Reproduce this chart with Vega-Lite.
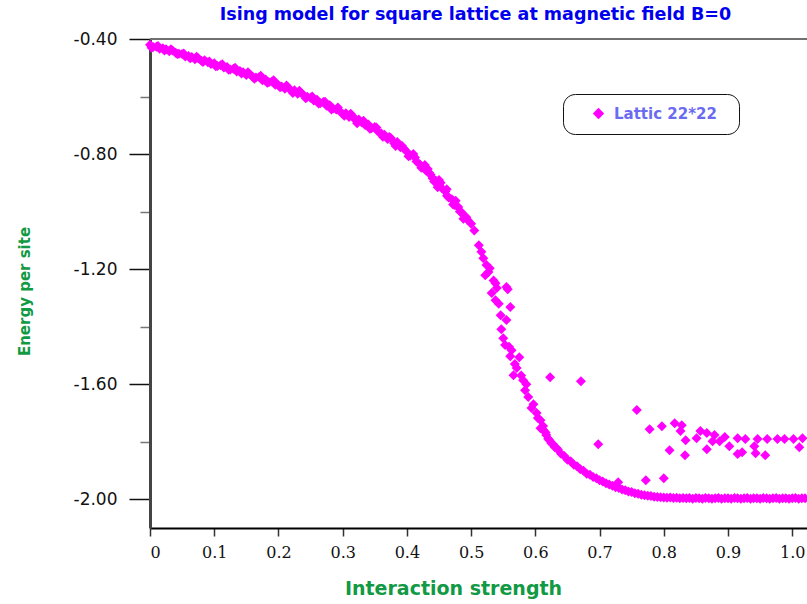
{
  "$schema": "https://vega.github.io/schema/vega-lite/v6.json",
  "width": 657,
  "height": 489,
  "autosize": "none",
  "padding": {"left": 150, "top": 39, "right": 0, "bottom": 76},
  "background": "white",
  "title": {
    "text": "Ising model for square lattice at magnetic field B=0",
    "font": "DejaVu Sans",
    "fontSize": 17.5,
    "fontWeight": "bold",
    "color": "#0000ee",
    "anchor": "middle",
    "frame": "group",
    "baseline": "alphabetic",
    "offset": -7,
    "dx": -3
  },
  "config": {
    "view": {"stroke": null}
  },
  "layer": [
    {
      "data": {"values": [{}]},
      "mark": {"type": "rule", "color": "#707070", "strokeWidth": 2},
      "encoding": {"y": {"datum": -0.4, "type": "quantitative"}}
    },
    {
      "data": {
        "values": [
          {"x": 0.000, "y": -0.420}, {"x": 0.005, "y": -0.428}, {"x": 0.010, "y": -0.427}, {"x": 0.015, "y": -0.434},
          {"x": 0.020, "y": -0.432}, {"x": 0.025, "y": -0.436}, {"x": 0.030, "y": -0.443}, {"x": 0.035, "y": -0.440},
          {"x": 0.040, "y": -0.448}, {"x": 0.045, "y": -0.451}, {"x": 0.050, "y": -0.452}, {"x": 0.055, "y": -0.461},
          {"x": 0.060, "y": -0.459}, {"x": 0.065, "y": -0.463}, {"x": 0.070, "y": -0.470}, {"x": 0.075, "y": -0.467},
          {"x": 0.080, "y": -0.476}, {"x": 0.085, "y": -0.474}, {"x": 0.090, "y": -0.481}, {"x": 0.095, "y": -0.487},
          {"x": 0.100, "y": -0.484}, {"x": 0.105, "y": -0.494}, {"x": 0.110, "y": -0.491}, {"x": 0.115, "y": -0.499},
          {"x": 0.120, "y": -0.497}, {"x": 0.125, "y": -0.506}, {"x": 0.130, "y": -0.503}, {"x": 0.135, "y": -0.513},
          {"x": 0.140, "y": -0.511}, {"x": 0.145, "y": -0.516}, {"x": 0.150, "y": -0.525}, {"x": 0.155, "y": -0.522},
          {"x": 0.160, "y": -0.531}, {"x": 0.165, "y": -0.534}, {"x": 0.170, "y": -0.532}, {"x": 0.175, "y": -0.543},
          {"x": 0.180, "y": -0.541}, {"x": 0.185, "y": -0.550}, {"x": 0.190, "y": -0.548}, {"x": 0.195, "y": -0.559},
          {"x": 0.200, "y": -0.560}, {"x": 0.205, "y": -0.565}, {"x": 0.210, "y": -0.573}, {"x": 0.215, "y": -0.569},
          {"x": 0.220, "y": -0.580}, {"x": 0.225, "y": -0.578}, {"x": 0.230, "y": -0.590}, {"x": 0.235, "y": -0.587},
          {"x": 0.240, "y": -0.596}, {"x": 0.245, "y": -0.601}, {"x": 0.250, "y": -0.604}, {"x": 0.255, "y": -0.614},
          {"x": 0.260, "y": -0.611}, {"x": 0.265, "y": -0.623}, {"x": 0.270, "y": -0.619}, {"x": 0.275, "y": -0.632},
          {"x": 0.280, "y": -0.630}, {"x": 0.285, "y": -0.642}, {"x": 0.290, "y": -0.645}, {"x": 0.295, "y": -0.650},
          {"x": 0.300, "y": -0.660}, {"x": 0.305, "y": -0.658}, {"x": 0.310, "y": -0.671}, {"x": 0.315, "y": -0.667},
          {"x": 0.320, "y": -0.682}, {"x": 0.325, "y": -0.680}, {"x": 0.330, "y": -0.690}, {"x": 0.335, "y": -0.699},
          {"x": 0.340, "y": -0.697}, {"x": 0.345, "y": -0.710}, {"x": 0.350, "y": -0.706}, {"x": 0.355, "y": -0.722},
          {"x": 0.360, "y": -0.728}, {"x": 0.365, "y": -0.733}, {"x": 0.370, "y": -0.748}, {"x": 0.375, "y": -0.744},
          {"x": 0.380, "y": -0.762}, {"x": 0.385, "y": -0.758}, {"x": 0.390, "y": -0.776}, {"x": 0.395, "y": -0.781},
          {"x": 0.400, "y": -0.792}, {"x": 0.405, "y": -0.806}, {"x": 0.410, "y": -0.800}, {"x": 0.415, "y": -0.826},
          {"x": 0.420, "y": -0.835}, {"x": 0.425, "y": -0.846}, {"x": 0.430, "y": -0.858}, {"x": 0.435, "y": -0.866},
          {"x": 0.440, "y": -0.884}, {"x": 0.445, "y": -0.892}, {"x": 0.450, "y": -0.906}, {"x": 0.455, "y": -0.920},
          {"x": 0.460, "y": -0.930}, {"x": 0.465, "y": -0.951}, {"x": 0.470, "y": -0.957}, {"x": 0.475, "y": -0.978},
          {"x": 0.480, "y": -0.984}, {"x": 0.485, "y": -1.002}, {"x": 0.490, "y": -1.016}, {"x": 0.495, "y": -1.030},
          {"x": 0.500, "y": -1.042}, {"x": 0.505, "y": -1.066},
          {"x": 0.0025, "y": -0.430}, {"x": 0.0125, "y": -0.424}, {"x": 0.0225, "y": -0.440}, {"x": 0.0325, "y": -0.436},
          {"x": 0.0425, "y": -0.452}, {"x": 0.0525, "y": -0.450}, {"x": 0.0625, "y": -0.467}, {"x": 0.0725, "y": -0.462},
          {"x": 0.0825, "y": -0.480}, {"x": 0.0925, "y": -0.478}, {"x": 0.1025, "y": -0.495}, {"x": 0.1125, "y": -0.488},
          {"x": 0.1225, "y": -0.507}, {"x": 0.1325, "y": -0.500}, {"x": 0.1425, "y": -0.520}, {"x": 0.1525, "y": -0.516},
          {"x": 0.1625, "y": -0.538}, {"x": 0.1725, "y": -0.528}, {"x": 0.1825, "y": -0.552}, {"x": 0.1925, "y": -0.543},
          {"x": 0.2025, "y": -0.568}, {"x": 0.2125, "y": -0.562}, {"x": 0.2225, "y": -0.588}, {"x": 0.2325, "y": -0.580},
          {"x": 0.2425, "y": -0.606}, {"x": 0.2525, "y": -0.600}, {"x": 0.2625, "y": -0.624}, {"x": 0.2725, "y": -0.618},
          {"x": 0.2825, "y": -0.645}, {"x": 0.2925, "y": -0.638}, {"x": 0.3025, "y": -0.667}, {"x": 0.3125, "y": -0.660},
          {"x": 0.3225, "y": -0.693}, {"x": 0.3325, "y": -0.684}, {"x": 0.3425, "y": -0.712}, {"x": 0.3525, "y": -0.708},
          {"x": 0.3625, "y": -0.740}, {"x": 0.3725, "y": -0.741}, {"x": 0.3825, "y": -0.772}, {"x": 0.3925, "y": -0.772},
          {"x": 0.4025, "y": -0.808}, {"x": 0.4125, "y": -0.812}, {"x": 0.4225, "y": -0.848}, {"x": 0.4325, "y": -0.852},
          {"x": 0.4425, "y": -0.895}, {"x": 0.4525, "y": -0.900}, {"x": 0.4625, "y": -0.945}, {"x": 0.4725, "y": -0.962},
          {"x": 0.4825, "y": -1.000}, {"x": 0.4925, "y": -1.020},
          {"x": 0.428, "y": -0.838}, {"x": 0.448, "y": -0.915}, {"x": 0.462, "y": -0.922}, {"x": 0.476, "y": -0.962},
          {"x": 0.488, "y": -1.025}, {"x": 0.472, "y": -0.975}, {"x": 0.450, "y": -0.890}, {"x": 0.437, "y": -0.872},
          {"x": 0.512, "y": -1.117}, {"x": 0.519, "y": -1.162}, {"x": 0.524, "y": -1.186}, {"x": 0.522, "y": -1.221},
          {"x": 0.529, "y": -1.197}, {"x": 0.538, "y": -1.249}, {"x": 0.532, "y": -1.283}, {"x": 0.538, "y": -1.308},
          {"x": 0.540, "y": -1.266}, {"x": 0.557, "y": -1.270}, {"x": 0.555, "y": -1.262}, {"x": 0.561, "y": -1.332},
          {"x": 0.546, "y": -1.360}, {"x": 0.555, "y": -1.377}, {"x": 0.547, "y": -1.409}, {"x": 0.550, "y": -1.440},
          {"x": 0.553, "y": -1.464}, {"x": 0.563, "y": -1.482}, {"x": 0.561, "y": -1.503}, {"x": 0.575, "y": -1.506},
          {"x": 0.571, "y": -1.544}, {"x": 0.566, "y": -1.569}, {"x": 0.581, "y": -1.586}, {"x": 0.584, "y": -1.621},
          {"x": 0.589, "y": -1.645}, {"x": 0.594, "y": -1.683}, {"x": 0.602, "y": -1.700}, {"x": 0.608, "y": -1.725},
          {"x": 0.608, "y": -1.753}, {"x": 0.617, "y": -1.777}, {"x": 0.625, "y": -1.805},
          {"x": 0.516, "y": -1.140}, {"x": 0.527, "y": -1.210}, {"x": 0.535, "y": -1.240}, {"x": 0.543, "y": -1.320},
          {"x": 0.559, "y": -1.470}, {"x": 0.568, "y": -1.530}, {"x": 0.578, "y": -1.570}, {"x": 0.586, "y": -1.600},
          {"x": 0.597, "y": -1.670}, {"x": 0.613, "y": -1.760}, {"x": 0.620, "y": -1.790},
          {"x": 0.604, "y": -1.718}, {"x": 0.612, "y": -1.745}, {"x": 0.616, "y": -1.768}, {"x": 0.622, "y": -1.795},
          {"x": 0.628, "y": -1.810}, {"x": 0.633, "y": -1.822},
          {"x": 0.630, "y": -1.818}, {"x": 0.635, "y": -1.827}, {"x": 0.640, "y": -1.842}, {"x": 0.645, "y": -1.850},
          {"x": 0.650, "y": -1.863}, {"x": 0.655, "y": -1.868}, {"x": 0.660, "y": -1.880}, {"x": 0.665, "y": -1.885},
          {"x": 0.670, "y": -1.896}, {"x": 0.675, "y": -1.901}, {"x": 0.680, "y": -1.911}, {"x": 0.685, "y": -1.915},
          {"x": 0.690, "y": -1.923}, {"x": 0.695, "y": -1.927}, {"x": 0.700, "y": -1.934}, {"x": 0.705, "y": -1.938},
          {"x": 0.710, "y": -1.944}, {"x": 0.715, "y": -1.949}, {"x": 0.720, "y": -1.953}, {"x": 0.725, "y": -1.958},
          {"x": 0.730, "y": -1.961}, {"x": 0.735, "y": -1.966}, {"x": 0.740, "y": -1.969}, {"x": 0.745, "y": -1.973},
          {"x": 0.750, "y": -1.975}, {"x": 0.755, "y": -1.979}, {"x": 0.760, "y": -1.981}, {"x": 0.765, "y": -1.984},
          {"x": 0.770, "y": -1.986}, {"x": 0.775, "y": -1.988}, {"x": 0.780, "y": -1.989}, {"x": 0.785, "y": -1.991},
          {"x": 0.790, "y": -1.992}, {"x": 0.795, "y": -1.993}, {"x": 0.800, "y": -1.994}, {"x": 0.805, "y": -1.995},
          {"x": 0.810, "y": -1.994}, {"x": 0.815, "y": -1.996}, {"x": 0.820, "y": -1.995}, {"x": 0.825, "y": -1.997},
          {"x": 0.830, "y": -1.996}, {"x": 0.835, "y": -1.997}, {"x": 0.840, "y": -1.996}, {"x": 0.845, "y": -1.998},
          {"x": 0.850, "y": -1.996}, {"x": 0.855, "y": -1.997}, {"x": 0.860, "y": -1.998}, {"x": 0.865, "y": -1.996},
          {"x": 0.870, "y": -1.997}, {"x": 0.875, "y": -1.998}, {"x": 0.880, "y": -1.997}, {"x": 0.885, "y": -1.996},
          {"x": 0.890, "y": -1.998}, {"x": 0.895, "y": -1.997}, {"x": 0.900, "y": -1.997}, {"x": 0.905, "y": -1.998},
          {"x": 0.910, "y": -1.996}, {"x": 0.915, "y": -1.997}, {"x": 0.920, "y": -1.998}, {"x": 0.925, "y": -1.997},
          {"x": 0.930, "y": -1.996}, {"x": 0.935, "y": -1.998}, {"x": 0.940, "y": -1.997}, {"x": 0.945, "y": -1.997},
          {"x": 0.950, "y": -1.998}, {"x": 0.955, "y": -1.996}, {"x": 0.960, "y": -1.997}, {"x": 0.965, "y": -1.998},
          {"x": 0.970, "y": -1.997}, {"x": 0.975, "y": -1.996}, {"x": 0.980, "y": -1.998}, {"x": 0.985, "y": -1.997},
          {"x": 0.990, "y": -1.997}, {"x": 0.995, "y": -1.998}, {"x": 1.000, "y": -1.997}, {"x": 1.005, "y": -1.996},
          {"x": 1.010, "y": -1.998}, {"x": 1.015, "y": -1.997}, {"x": 1.020, "y": -1.997},
          {"x": 0.623, "y": -1.576}, {"x": 0.671, "y": -1.590}, {"x": 0.698, "y": -1.809}, {"x": 0.758, "y": -1.690},
          {"x": 0.778, "y": -1.757}, {"x": 0.797, "y": -1.746}, {"x": 0.817, "y": -1.736}, {"x": 0.828, "y": -1.743},
          {"x": 0.826, "y": -1.763}, {"x": 0.834, "y": -1.795}, {"x": 0.809, "y": -1.830}, {"x": 0.833, "y": -1.847},
          {"x": 0.857, "y": -1.763}, {"x": 0.867, "y": -1.770}, {"x": 0.851, "y": -1.788}, {"x": 0.879, "y": -1.777},
          {"x": 0.876, "y": -1.798}, {"x": 0.887, "y": -1.798}, {"x": 0.895, "y": -1.784}, {"x": 0.902, "y": -1.816},
          {"x": 0.867, "y": -1.826}, {"x": 0.915, "y": -1.788}, {"x": 0.927, "y": -1.791}, {"x": 0.946, "y": -1.791},
          {"x": 0.961, "y": -1.791}, {"x": 0.977, "y": -1.791}, {"x": 0.988, "y": -1.791}, {"x": 1.002, "y": -1.791},
          {"x": 1.016, "y": -1.788}, {"x": 0.941, "y": -1.816}, {"x": 0.943, "y": -1.840}, {"x": 0.922, "y": -1.837},
          {"x": 0.915, "y": -1.843}, {"x": 0.958, "y": -1.847}, {"x": 1.011, "y": -1.819}, {"x": 0.729, "y": -1.941},
          {"x": 0.772, "y": -1.934}, {"x": 0.800, "y": -1.927}
        ]
      },
      "mark": {"type": "point", "shape": "diamond", "filled": true, "size": 100, "opacity": 1},
      "encoding": {
        "x": {
          "field": "x",
          "type": "quantitative",
          "scale": {"domain": [0, 1.023], "nice": false, "zero": false},
          "axis": {
            "title": "Interaction strength",
            "values": [0, 0.1, 0.2, 0.3, 0.4, 0.5, 0.6, 0.7, 0.8, 0.9, 1.0],
            "labelExpr": "datum.value == 0 ? '0' : format(datum.value, '.1f')",
            "labelFont": "DejaVu Serif",
            "labelFontSize": 16,
            "labelColor": "#111111",
            "labelPadding": 8,
            "grid": false,
            "domainColor": "#000000",
            "domainWidth": 2,
            "tickColor": "#333333",
            "tickWidth": 1.5,
            "tickSize": 8,
            "titleFont": "DejaVu Sans",
            "titleFontSize": 19,
            "titleFontWeight": "bold",
            "titleColor": "#119944",
            "titleX": 303,
            "titleY": 66,
            "titleAlign": "center",
            "titleBaseline": "alphabetic"
          }
        },
        "y": {
          "field": "y",
          "type": "quantitative",
          "scale": {"domain": [-2.1, -0.4], "nice": false, "zero": false},
          "axis": {
            "title": "Energy per site",
            "values": [-0.4, -0.6, -0.8, -1.0, -1.2, -1.4, -1.6, -1.8, -2.0],
            "labelExpr": "abs(datum.value * 10 % 4) < 0.01 ? '-' + format(-datum.value, '.2f') : ''",
            "labelFont": "DejaVu Sans",
            "labelFontSize": 17,
            "labelColor": "#111111",
            "labelPadding": 12,
            "grid": false,
            "domainColor": "#444444",
            "domainWidth": 3,
            "tickColor": {"condition": {"test": "abs(datum.value * 10 % 4) < 0.01", "value": "#111111"}, "value": "#777777"},
            "tickSize": {"condition": {"test": "abs(datum.value * 10 % 4) < 0.01", "value": 21}, "value": 10},
            "tickWidth": 1.5,
            "titleFont": "DejaVu Sans",
            "titleFontSize": 15,
            "titleFontWeight": "bold",
            "titleColor": "#119944",
            "titleX": -126,
            "titleY": 252,
            "titleAlign": "center",
            "titleBaseline": "middle",
            "titleAngle": 270
          }
        },
        "color": {
          "datum": "Lattic 22*22",
          "scale": {"range": ["#ff00ff"]},
          "legend": {
            "title": " ",
            "titleOrient": "right",
            "titlePadding": 10,
            "titleFontSize": 15,
            "orient": "none",
            "legendX": 413,
            "legendY": 55,
            "strokeColor": "#111111",
            "cornerRadius": 12,
            "fillColor": "white",
            "padding": 12,
            "symbolType": "diamond",
            "symbolSize": 130,
            "symbolStrokeWidth": 0,
            "symbolOffset": 16,
            "labelFont": "DejaVu Sans",
            "labelFontSize": 15,
            "labelFontWeight": "bold",
            "labelColor": "#6b6bf2",
            "labelOffset": 8
          }
        }
      }
    }
  ]
}
